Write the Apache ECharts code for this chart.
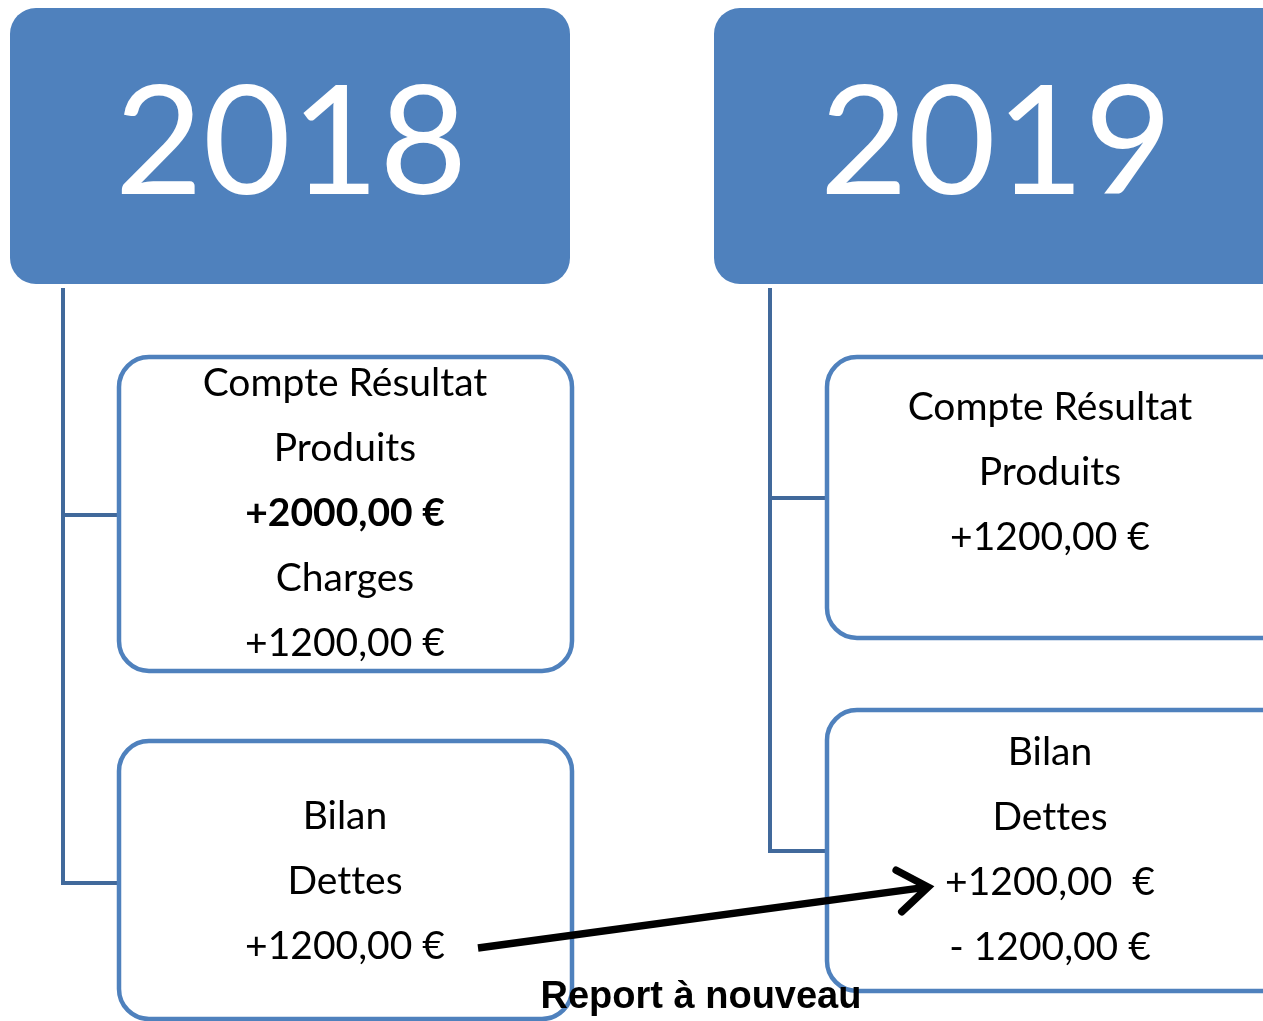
<!DOCTYPE html>
<html>
<head>
<meta charset="utf-8">
<script src="https://cdn.jsdelivr.net/npm/echarts@6/dist/echarts.min.js"></script>
<style>
  html, body { margin: 0; padding: 0; background: #fff; }
  #chart { width: 1263px; height: 1021px; }
</style>
</head>
<body>
<div id="chart"></div>
<script>
// contenu du schéma
const years = ["2018", "2019"];
const crLines2018 = ["Compte Résultat", "Produits", "+2000,00 €", "Charges", "+1200,00 €"];
const bilanLines2018 = ["Bilan", "Dettes", "+1200,00 €"];
const crLines2019 = ["Compte Résultat", "Produits", "+1200,00 €"];
const bilanLines2019 = ["Bilan", "Dettes", "+1200,00  €", "- 1200,00 €"];
const boldLines = ["+2000,00 €"];
const arrowLabel = "Report à nouveau";

// mise en page (unités des axes = pixels)
const headers = [
  { x0: 10, y0: 8, x1: 570, y1: 284, text: years[0], tx: 291, ty: 145 },
  { x0: 714, y0: 8, x1: 1300, y1: 284, text: years[1], tx: 996, ty: 145 },
];
const boxes = [
  { x0: 119, y0: 357, x1: 572, y1: 671, lines: crLines2018, tx: 345, ty: 383, step: 65 },
  { x0: 119, y0: 741, x1: 572, y1: 1019, lines: bilanLines2018, tx: 345, ty: 816, step: 65 },
  { x0: 827, y0: 357, x1: 1300, y1: 638, lines: crLines2019, tx: 1050, ty: 407, step: 65 },
  { x0: 827, y0: 710, x1: 1300, y1: 991, lines: bilanLines2019, tx: 1050, ty: 752, step: 65 },
];
const connectors = [
  [[63, 288], [63, 883], [119, 883]],
  [[63, 515], [119, 515]],
  [[770, 288], [770, 851], [827, 851]],
  [[770, 498], [827, 498]],
];
const arrow = { from: [478, 948], to: [928, 887], label: [701, 998] };

const chart = echarts.init(document.getElementById("chart"));

// pas de ligature "tt" avec Lato
const noLig = (s) => s.replace(/tt/g, "t\u200Ct");

function renderHeader(params, api) {
  const h = headers[params.dataIndex];
  const p0 = api.coord([h.x0, h.y0]);
  const p1 = api.coord([h.x1, h.y1]);
  const t = api.coord([h.tx, h.ty]);
  return {
    type: "group",
    children: [
      {
        type: "rect",
        shape: { x: p0[0], y: p0[1], width: p1[0] - p0[0], height: p1[1] - p0[1], r: 26 },
        style: { fill: "#4F81BD" },
      },
      {
        type: "text",
        style: {
          text: h.text, x: t[0], y: t[1],
          fill: "#fff", font: "152px Lato",
          textAlign: "center", textVerticalAlign: "middle",
        },
      },
    ],
  };
}

function renderBox(params, api) {
  const b = boxes[params.dataIndex];
  const p0 = api.coord([b.x0, b.y0]);
  const p1 = api.coord([b.x1, b.y1]);
  const children = [
    {
      type: "rect",
      shape: { x: p0[0], y: p0[1], width: p1[0] - p0[0], height: p1[1] - p0[1], r: 30 },
      style: { fill: "#fff", stroke: "#4F81BD", lineWidth: 4.5 },
    },
  ];
  b.lines.forEach((line, i) => {
    const t = api.coord([b.tx, b.ty + i * b.step]);
    const bold = boldLines.includes(line) && b.lines === crLines2018;
    children.push({
      type: "text",
      style: {
        text: noLig(line), x: t[0], y: t[1],
        fill: "#000", font: (bold ? "bold " : "") + "39px Lato",
        textAlign: "center", textVerticalAlign: "middle",
      },
    });
  });
  return { type: "group", children };
}

function renderArrow(params, api) {
  const a = api.coord(arrow.from);
  const b = api.coord(arrow.to);
  const ang = Math.atan2(b[1] - a[1], b[0] - a[0]);
  const len = 36, spread = 0.62;
  const h1 = [b[0] - len * Math.cos(ang - spread), b[1] - len * Math.sin(ang - spread)];
  const h2 = [b[0] - len * Math.cos(ang + spread), b[1] - len * Math.sin(ang + spread)];
  const l = api.coord(arrow.label);
  return {
    type: "group",
    children: [
      { type: "line", shape: { x1: a[0], y1: a[1], x2: b[0] - 3, y2: b[1] + 0.4 }, style: { stroke: "#000", lineWidth: 7.5 } },
      { type: "polyline", shape: { points: [h1, b, h2] }, style: { stroke: "#000", lineWidth: 7.5, fill: null, lineJoin: "miter", lineCap: "round" } },
      {
        type: "text",
        style: {
          text: arrowLabel, x: l[0], y: l[1],
          fill: "#000", font: "bold 38px 'Liberation Sans'",
          textAlign: "center", textVerticalAlign: "middle",
        },
      },
    ],
  };
}

const options = {
  animation: false,
  grid: { left: 0, right: 0, top: 0, bottom: 0 },
  xAxis: { type: "value", min: 0, max: 1263, show: false },
  yAxis: { type: "value", min: 0, max: 1021, inverse: true, show: false },
  series: [
    {
      type: "lines",
      coordinateSystem: "cartesian2d",
      polyline: true,
      silent: true,
      lineStyle: { color: "#41699B", width: 4, opacity: 1, join: "miter" },
      data: connectors.map((c) => ({ coords: c })),
      z: 1,
    },
    {
      type: "custom",
      clip: false,
      renderItem: renderHeader,
      data: headers.map((h, i) => i),
      z: 2,
    },
    {
      type: "custom",
      clip: false,
      renderItem: renderBox,
      data: boxes.map((b, i) => i),
      z: 3,
    },
    {
      type: "custom",
      clip: false,
      renderItem: renderArrow,
      data: [0],
      z: 4,
    },
  ],
};

chart.setOption(options);
window.addEventListener("resize", () => {
  chart.resize();
});
</script>
</body>
</html>
